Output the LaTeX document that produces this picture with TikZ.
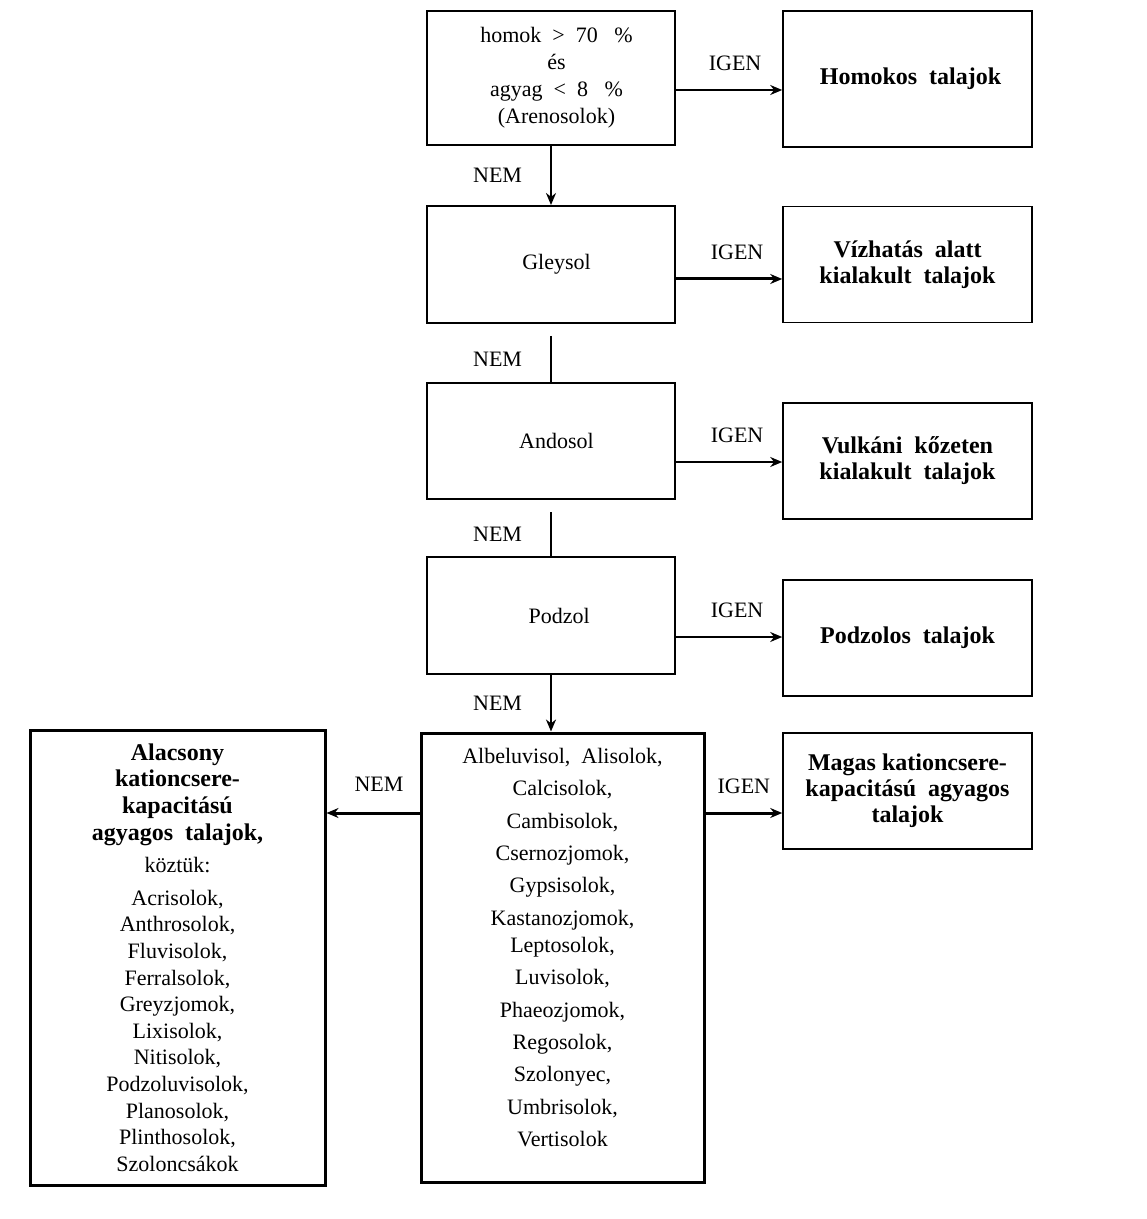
\documentclass[tikz,border=0pt]{standalone}
\usepackage{fontspec}
\setmainfont{Liberation Serif}
\usetikzlibrary{positioning,arrows.meta}

\begin{document}
\begin{tikzpicture}[x=0.5pt, y=-0.5pt,
    font=\fontsize{11}{13.5}\selectfont,
    box/.style={draw, line width=1pt, minimum width=124pt, minimum height=58.5pt, align=center, inner sep=0pt},
    result/.style={draw, line width=0.8pt, minimum width=124.5pt, minimum height=58pt, align=center, inner sep=0pt, font=\fontsize{12}{13}\selectfont\bfseries},
    bigbox/.style={draw, line width=1.5pt, align=center, inner sep=0pt},
    arr/.style={-{Stealth[length=6pt, width=5pt]}, line width=1pt},
    lbl/.style={inner sep=0pt}]
    \useasboundingbox (0,0) rectangle (1146,1219);

    % kerdesek
    \node[box, minimum height=67pt] (homok) at (551,78) {~~homok~ >~ 70~~ \%\\ ~~és\\ ~~agyag~ <~ 8~~ \%\\ ~~(Arenosolok)};
    \node[box] (gleysol) at (551,264.5) {~~Gleysol};
    \node[box, minimum height=58pt] (andosol) at (551,441) {~~Andosol};
    \node[box] (podzol) at (551,615.5) {~~~Podzol};
    \node[bigbox, minimum width=141.5pt, minimum height=224.5pt, font=\fontsize{11}{16.2}\selectfont] (lista) at (562.5,957.5)
        {Albeluvisol,~ Alisolok,\\ Calcisolok,\\ Cambisolok,\\ Csernozjomok,\\ Gypsisolok,\\ Kastanozjomok,\\[-2.7pt] Leptosolok,\\
         Luvisolok,\\ Phaeozjomok,\\ Regosolok,\\ Szolonyec,\\ Umbrisolok,\\ Vertisolok\\[-6pt]};

    % eredmenyek
    \node[result, minimum height=68pt] (homokos) at (907.5,79) {~Homokos~ talajok};
    \node[result] (vizhatas) at (907.5,264.5) {Vízhatás~ alatt\\ kialakult~ talajok};
    \node[result] (vulkani) at (907.5,461) {Vulkáni~ kőzeten\\ kialakult~ talajok};
    \node[result] (podzolos) at (907.5,638) {Podzolos~ talajok};
    \node[result] (magas) at (907.5,791) {Magas kationcsere-\\ kapacitású~ agyagos\\ talajok};
    \node[bigbox, minimum width=147.5pt, minimum height=227.5pt, font=\fontsize{11}{13.3}\selectfont] (alacsony) at (177.5,957.5)
        {\textbf{\fontsize{12}{13.3}\selectfont Alacsony}\\ \textbf{\fontsize{12}{13.3}\selectfont kationcsere-}\\
         \textbf{\fontsize{12}{13.3}\selectfont kapacitású}\\ \textbf{\fontsize{12}{13.3}\selectfont agyagos~ talajok,}\\[3pt]
         köztük:\\[3pt] Acrisolok,\\ Anthrosolok,\\ Fluvisolok,\\ Ferralsolok,\\ Greyzjomok,\\ Lixisolok,\\ Nitisolok,\\
         Podzoluvisolok,\\ Planosolok,\\ Plinthosolok,\\ Szoloncsákok};

    % IGEN agak
    \draw[arr] ([yshift=-6pt]homok.east) -- node[lbl, above=9pt, xshift=3pt] {IGEN} ([yshift=-6pt]homok.east -| homokos.west);
    \draw[arr, line width=1.5pt] ([yshift=-7.25pt]gleysol.east) -- node[lbl, above=9pt, xshift=4pt] {IGEN} ([yshift=-7.25pt]gleysol.east -| vizhatas.west);
    \draw[arr] ([yshift=-10.5pt]andosol.east) -- node[lbl, above=9pt, xshift=4pt] {IGEN} ([yshift=-10.5pt]andosol.east -| vulkani.west);
    \draw[arr] ([yshift=-10.75pt]podzol.east) -- node[lbl, above=9pt, xshift=4pt] {IGEN} ([yshift=-10.75pt]podzol.east -| podzolos.west);
    \draw[arr, line width=1.5pt] ([yshift=72.25pt]lista.east) -- node[lbl, above=9pt] {IGEN} ([yshift=72.25pt]lista.east -| magas.west);

    % NEM agak
    \draw[arr] (homok) -- node[lbl, left=14pt] {NEM} (gleysol);
    \draw[line width=1pt] ([yshift=-6pt]gleysol.south) -- node[lbl, left=14pt] {NEM} (andosol);
    \draw[line width=1pt] ([yshift=-6pt]andosol.south) -- node[lbl, left=14pt] {NEM} (podzol);
    \draw[arr] (podzol.south) -- node[lbl, left=14pt] {NEM} (podzol.south |- lista.north);
    \draw[arr, line width=1.5pt] ([yshift=72.25pt]lista.west) -- node[lbl, above=10pt, xshift=3pt] {NEM} ([yshift=72.25pt]lista.west -| alacsony.east);
\end{tikzpicture}
\end{document}
